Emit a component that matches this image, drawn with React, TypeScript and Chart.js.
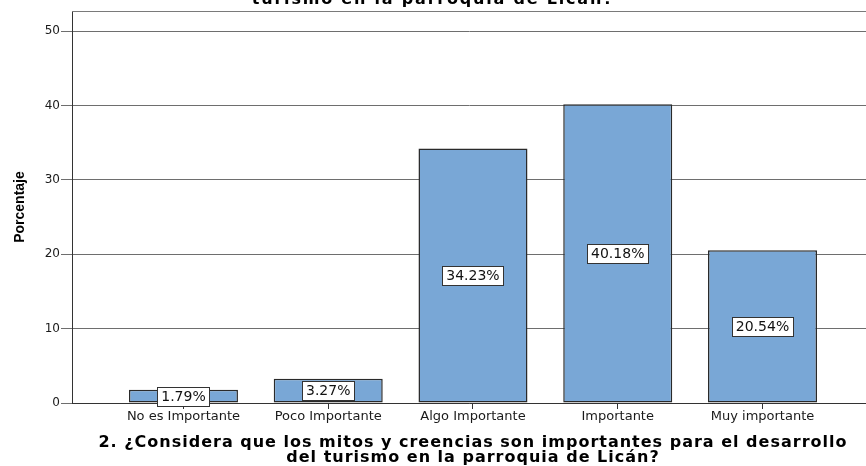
import React, { useEffect, useRef } from "react";
import { Chart, registerables } from "chart.js";

Chart.register(...registerables);

const CATEGORIES = ["No es Importante", "Poco Importante", "Algo Importante", "Importante", "Muy importante"];
const VALUES = [1.79, 3.27, 34.23, 40.18, 20.54];
const Y_TICKS_STEP = 10;
const TITLE_LINES = [
  "2. ¿Considera que los mitos y creencias son importantes para el desarrollo del",
  "turismo en la parroquia de Licán?",
];
const X_TITLE_LINES = [
  "2. ¿Considera que los mitos y creencias son importantes para el desarrollo",
  "del turismo en la parroquia de Licán?",
];
const Y_TITLE = "Porcentaje";

const FONT = "'DejaVu Sans', 'Liberation Sans', sans-serif";
const TITLE_FONT = `bold 16px ${FONT}`;

const boxLabels = {
  id: "boxLabels",
  afterDatasetsDraw(chart: any) {
    const ctx = chart.ctx;
    const meta = chart.getDatasetMeta(0);
    ctx.save();
    ctx.font = `14px ${FONT}`;
    ctx.textAlign = "center";
    ctx.textBaseline = "middle";
    meta.data.forEach((el: any, i: number) => {
      const text = VALUES[i].toFixed(2) + "%";
      const w = ctx.measureText(text).width + 8;
      const h = 19;
      const cx = el.x;
      const cy = (el.y + el.base) / 2;
      const x0 = Math.round(cx - w / 2) + 0.5;
      const y0 = Math.round(cy - h / 2) + 0.5;
      ctx.fillStyle = "#ffffff";
      ctx.fillRect(x0, y0, Math.round(w), h);
      ctx.strokeStyle = "#333333";
      ctx.lineWidth = 1;
      ctx.strokeRect(x0, y0, Math.round(w), h);
      ctx.fillStyle = "#111111";
      ctx.fillText(text, cx, cy + 1);
    });
    ctx.restore();
  },
};

const frameAndTitles = {
  id: "frameAndTitles",
  afterDraw(chart: any) {
    const { ctx, chartArea, width } = chart;
    const xs = chart.scales.x;
    ctx.save();
    // top frame line of the plot
    ctx.strokeStyle = "#7a7a7a";
    ctx.lineWidth = 1;
    ctx.beginPath();
    ctx.moveTo(chartArea.left, Math.round(chartArea.top) + 0.5);
    ctx.lineTo(chartArea.right, Math.round(chartArea.top) + 0.5);
    ctx.stroke();

    ctx.font = TITLE_FONT;
    ctx.fillStyle = "#000";
    ctx.textAlign = "center";
    ctx.textBaseline = "alphabetic";
    // chart title (first line falls above the visible frame)
    try {
      (ctx as any).letterSpacing = "1.8px";
    } catch (e) {}
    const tBase = chartArea.top - 7;
    TITLE_LINES.forEach((line, i) => {
      ctx.fillText(line, width / 2, tBase - (TITLE_LINES.length - 1 - i) * 15);
    });
    // x axis title
    try {
      (ctx as any).letterSpacing = "1px";
    } catch (e) {}
    const cx = xs.getPixelForValue((CATEGORIES.length - 1) / 2);
    const xBase = xs.bottom - 4;
    X_TITLE_LINES.forEach((line, i) => {
      ctx.fillText(line, cx, xBase - (X_TITLE_LINES.length - 1 - i) * 15);
    });
    ctx.restore();
  },
};

export default function App() {
  const ref = useRef<HTMLCanvasElement>(null);

  useEffect(() => {
    if (!ref.current) return;
    const chart = new Chart(ref.current, {
      type: "bar",
      data: {
        datasets: [
          {
            data: VALUES.map((v, i) => ({ x: i, y: v })),
            backgroundColor: "#79a7d6",
            borderColor: "#2a2a2a",
            borderWidth: 1.5,
            borderSkipped: false,
            categoryPercentage: 1,
            barPercentage: 0.753,
          },
        ],
      },
      options: {
        responsive: false,
        animation: false,
        events: [],
        layout: { padding: { top: 33, left: 0, right: 0, bottom: 0 } },
        plugins: {
          legend: { display: false },
          tooltip: { enabled: false },
          title: { display: false },
        },
        scales: {
          x: {
            type: "linear",
            offset: false,
            min: -0.77,
            max: 4.715,
            afterFit: (s: any) => {
              s.height = 63;
            },
            ticks: {
              stepSize: 1,
              includeBounds: false,
              autoSkip: false,
              maxRotation: 0,
              padding: 0,
              color: "#1a1a1a",
              font: { family: FONT, size: 13 },
              callback: (v: any) => CATEGORIES[v as number] ?? "",
            },
            grid: {
              offset: false,
              drawOnChartArea: false,
              drawTicks: true,
              tickLength: 6,
              color: "#333333",
            },
            border: { display: true, color: "#333333", width: 1 },
            title: { display: false },
          },
          y: {
            type: "linear",
            min: 0,
            max: 52.7,
            afterFit: (s: any) => {
              s.width = 72;
            },
            ticks: {
              stepSize: Y_TICKS_STEP,
              includeBounds: false,
              padding: 1,
              color: "#1a1a1a",
              font: { family: FONT, size: 12 },
            },
            grid: {
              drawTicks: true,
              tickLength: 11,
              color: "#6e6e6e",
              lineWidth: 1,
            },
            border: { display: true, color: "#333333", width: 1 },
            title: {
              display: true,
              text: Y_TITLE,
              color: "#000",
              font: { family: "'Liberation Sans', Arial, sans-serif", size: 14, weight: "bold", lineHeight: 1.2 },
              padding: { top: 11.6, bottom: 0 },
            },
          },
        },
      },
      plugins: [boxLabels, frameAndTitles],
    } as any);
    return () => chart.destroy();
  }, []);

  return (
    <div style={{ position: "fixed", left: 0, top: 0, width: 866, height: 466, overflow: "hidden", background: "#fff" }}>
      <canvas
        ref={ref}
        width={866}
        height={488}
        style={{ position: "absolute", left: 0, top: -22, width: 866, height: 488, display: "block" }}
      />
    </div>
  );
}
